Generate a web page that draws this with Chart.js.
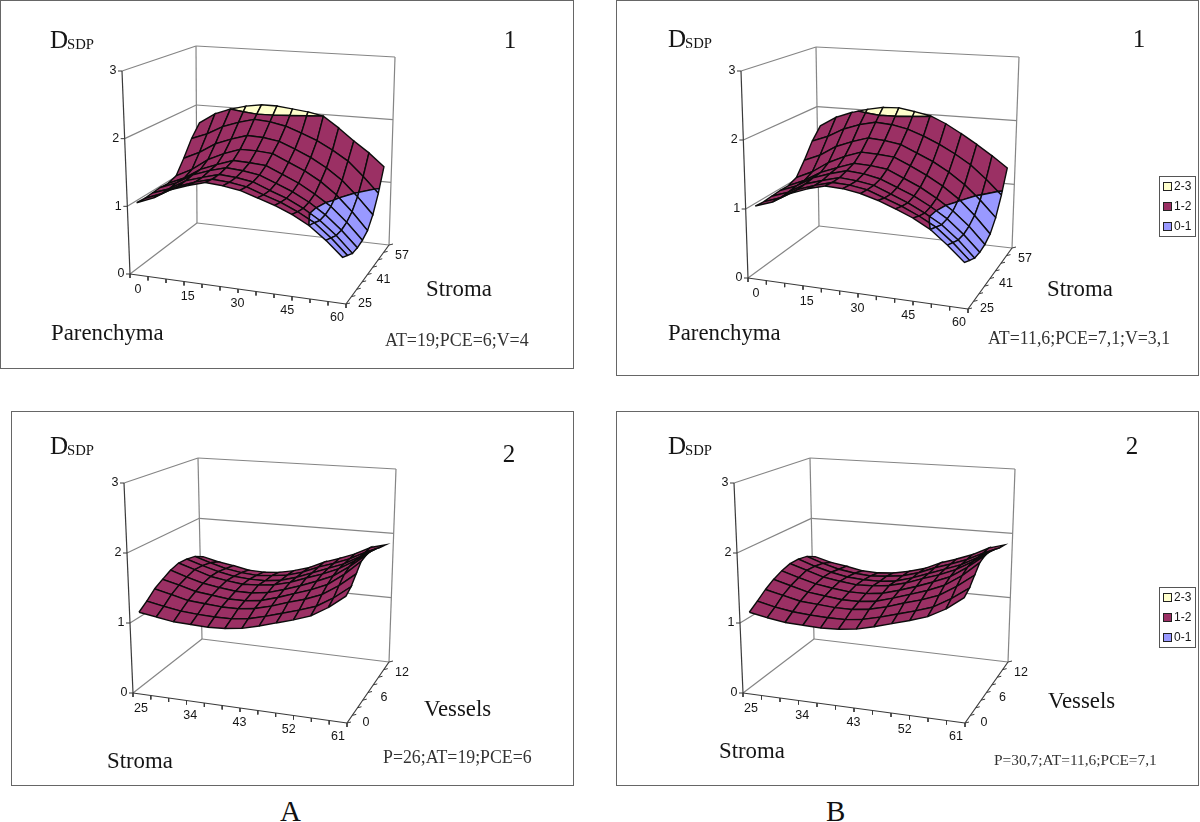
<!DOCTYPE html>
<html>
<head>
<meta charset="utf-8">
<title>DSDP surfaces</title>
<script src="https://cdn.jsdelivr.net/npm/chart.js@4/dist/chart.umd.min.js"></script>
<style>
  html, body { margin: 0; padding: 0; background: #fff; }
  body { position: relative; width: 1200px; height: 822px; overflow: hidden; }
  .panel { position: absolute; outline: 1px solid #666; background: #fff; }
  .panel canvas { display: block; }
  .group { position: absolute; font: 29px "Liberation Serif", serif; color: #111; }
</style>
</head>
<body>
<script>
const valueTicks = [0, 1, 2, 3];
const parenchyma = [0, 5, 10, 15, 20, 25, 30, 35, 40, 45, 50, 55, 60];
const stromaRows = [25, 29, 33, 37, 41, 45, 49, 53, 57];
const stromaCols = [25, 28, 31, 34, 37, 40, 43, 46, 49, 52, 55, 58, 61];
const vesselRows = [0, 1.5, 3, 4.5, 6, 7.5, 9, 10.5, 12];
const bandLabels = ['2-3', '1-2', '0-1'];

// rows run front to back, columns left to right
const surfaceA1 = [
  [1.04, 1.14, 1.29, 1.38, 1.45, 1.43, 1.39, 1.31, 1.23, 1.13, 1.00, 0.82, 0.61],
  [1.03, 1.13, 1.27, 1.36, 1.43, 1.41, 1.37, 1.28, 1.20, 1.09, 0.96, 0.77, 0.55],
  [1.04, 1.13, 1.28, 1.36, 1.43, 1.41, 1.37, 1.27, 1.18, 1.06, 0.91, 0.72, 0.49],
  [1.05, 1.15, 1.30, 1.39, 1.46, 1.44, 1.40, 1.30, 1.20, 1.07, 0.91, 0.71, 0.48],
  [1.04, 1.15, 1.31, 1.41, 1.50, 1.49, 1.47, 1.36, 1.25, 1.11, 0.95, 0.74, 0.50],
  [1.08, 1.21, 1.39, 1.51, 1.60, 1.60, 1.58, 1.47, 1.36, 1.22, 1.04, 0.81, 0.55],
  [1.29, 1.41, 1.57, 1.67, 1.75, 1.74, 1.70, 1.60, 1.49, 1.35, 1.18, 0.95, 0.70],
  [1.54, 1.64, 1.78, 1.87, 1.94, 1.92, 1.87, 1.78, 1.68, 1.55, 1.40, 1.18, 0.94],
  [1.73, 1.90, 2.00, 2.07, 2.11, 2.11, 2.08, 2.05, 2.00, 1.83, 1.64, 1.47, 1.27]
];
const surfaceB1 = [
  [1.03, 1.12, 1.27, 1.37, 1.44, 1.43, 1.39, 1.32, 1.23, 1.13, 1.00, 0.81, 0.60],
  [1.02, 1.11, 1.26, 1.35, 1.42, 1.41, 1.37, 1.28, 1.19, 1.08, 0.95, 0.76, 0.54],
  [1.03, 1.12, 1.27, 1.35, 1.42, 1.40, 1.36, 1.26, 1.16, 1.04, 0.90, 0.71, 0.48],
  [1.04, 1.14, 1.29, 1.38, 1.45, 1.43, 1.38, 1.28, 1.18, 1.05, 0.90, 0.70, 0.47],
  [1.04, 1.15, 1.30, 1.40, 1.49, 1.48, 1.45, 1.34, 1.23, 1.09, 0.93, 0.73, 0.49],
  [1.09, 1.21, 1.38, 1.50, 1.59, 1.58, 1.56, 1.45, 1.33, 1.19, 1.02, 0.80, 0.55],
  [1.29, 1.40, 1.56, 1.66, 1.74, 1.72, 1.68, 1.57, 1.46, 1.32, 1.15, 0.94, 0.70],
  [1.53, 1.63, 1.77, 1.86, 1.92, 1.90, 1.85, 1.76, 1.65, 1.52, 1.37, 1.17, 0.95],
  [1.71, 1.87, 1.97, 2.04, 2.09, 2.10, 2.06, 2.01, 1.90, 1.76, 1.61, 1.45, 1.28]
];
const surfaceA2 = [
  [1.14, 1.10, 1.06, 1.05, 1.04, 1.05, 1.08, 1.14, 1.21, 1.28, 1.36, 1.50, 1.68],
  [1.23, 1.18, 1.14, 1.12, 1.11, 1.11, 1.14, 1.20, 1.27, 1.34, 1.42, 1.56, 1.74],
  [1.34, 1.28, 1.22, 1.20, 1.18, 1.18, 1.21, 1.27, 1.35, 1.42, 1.51, 1.66, 1.85],
  [1.41, 1.35, 1.28, 1.25, 1.22, 1.22, 1.25, 1.32, 1.40, 1.48, 1.58, 1.75, 1.96],
  [1.48, 1.40, 1.33, 1.29, 1.26, 1.26, 1.29, 1.36, 1.44, 1.53, 1.63, 1.79, 1.98],
  [1.52, 1.44, 1.36, 1.32, 1.29, 1.30, 1.33, 1.39, 1.48, 1.56, 1.66, 1.80, 1.97],
  [1.51, 1.43, 1.36, 1.31, 1.29, 1.29, 1.32, 1.39, 1.48, 1.57, 1.66, 1.79, 1.93],
  [1.48, 1.40, 1.33, 1.29, 1.27, 1.29, 1.32, 1.39, 1.49, 1.57, 1.66, 1.78, 1.88],
  [1.40, 1.34, 1.30, 1.25, 1.24, 1.26, 1.31, 1.38, 1.49, 1.57, 1.66, 1.78, 1.84]
];
const surfaceB2 = [
  [1.14, 1.09, 1.05, 1.04, 1.03, 1.04, 1.07, 1.13, 1.20, 1.27, 1.35, 1.48, 1.66],
  [1.23, 1.17, 1.13, 1.11, 1.10, 1.10, 1.13, 1.19, 1.26, 1.33, 1.41, 1.55, 1.72],
  [1.33, 1.27, 1.21, 1.19, 1.17, 1.17, 1.20, 1.26, 1.34, 1.41, 1.50, 1.65, 1.83],
  [1.41, 1.34, 1.27, 1.24, 1.21, 1.21, 1.24, 1.31, 1.39, 1.47, 1.57, 1.73, 1.94],
  [1.47, 1.39, 1.32, 1.28, 1.25, 1.25, 1.28, 1.35, 1.43, 1.52, 1.62, 1.78, 1.97],
  [1.51, 1.43, 1.35, 1.31, 1.28, 1.29, 1.32, 1.38, 1.47, 1.55, 1.65, 1.79, 1.96],
  [1.51, 1.42, 1.35, 1.30, 1.28, 1.28, 1.31, 1.38, 1.47, 1.56, 1.65, 1.78, 1.92],
  [1.48, 1.39, 1.32, 1.28, 1.26, 1.28, 1.31, 1.38, 1.48, 1.56, 1.65, 1.77, 1.87],
  [1.40, 1.33, 1.29, 1.24, 1.23, 1.25, 1.30, 1.37, 1.48, 1.56, 1.65, 1.77, 1.84]
];

const bandColors = ['#FFFFCC', '#9B3064', '#9999FF'];
const bands = [[2, 3, bandColors[0]], [1, 2, bandColors[1]], [0, 1, bandColors[2]]];
const serif = '"Liberation Serif", serif';
const sans = '"Liberation Sans", sans-serif';

// frame is the drawn rectangle, box holds floor and top corners of the 3d cube
const panels = [
  {
    frame: [1, 1, 573, 368], values: surfaceA1, cols: parenchyma, rows: stromaRows, colEvery: 3, rowEvery: 4,
    box: { fl: [130, 274], fr: [346, 304], br: [389, 245], bl: [197, 223], tfl: [122, 71], tfr: [353, 89], tbr: [395, 57], tbl: [196, 46] },
    dLabel: [50, 48], number: ['1', 510, 48], colName: ['Parenchyma', 51, 340], rowName: ['Stroma', 426, 296],
    note: ['AT=19;PCE=6;V=4', 385, 346, 17.9], legend: null
  },
  {
    frame: [617, 1, 1198, 375], values: surfaceB1, cols: parenchyma, rows: stromaRows, colEvery: 3, rowEvery: 4,
    box: { fl: [748, 278], fr: [968, 309], br: [1012, 248], bl: [819, 226], tfl: [741, 71], tfr: [975, 92], tbr: [1019, 57], tbl: [816, 47] },
    dLabel: [668, 47], number: ['1', 1139, 47], colName: ['Parenchyma', 668, 340], rowName: ['Stroma', 1047, 296],
    note: ['AT=11,6;PCE=7,1;V=3,1', 988, 344, 17.8], legend: [1159, 176]
  },
  {
    frame: [12, 412, 573, 785], values: surfaceA2, cols: stromaCols, rows: vesselRows, colEvery: 3, rowEvery: 4,
    box: { fl: [133, 693], fr: [347, 723], br: [389, 662], bl: [202, 639], tfl: [124, 483], tfr: [354, 501], tbr: [396, 469], tbl: [198, 458] },
    dLabel: [50, 454], number: ['2', 509, 462], colName: ['Stroma', 107, 768], rowName: ['Vessels', 424, 716],
    note: ['P=26;AT=19;PCE=6', 383, 763, 17.8], legend: null
  },
  {
    frame: [617, 412, 1198, 785], values: surfaceB2, cols: stromaCols, rows: vesselRows, colEvery: 3, rowEvery: 4,
    box: { fl: [743, 693], fr: [965, 723], br: [1008, 662], bl: [814, 639], tfl: [734, 483], tfr: [973, 501], tbr: [1015, 469], tbl: [810, 458] },
    dLabel: [668, 454], number: ['2', 1132, 454], colName: ['Stroma', 719, 758], rowName: ['Vessels', 1048, 708],
    note: ['P=30,7;AT=11,6;PCE=7,1', 994, 765, 15.4], legend: [1159, 587]
  }
];

function lerp(a, b, t) { return a + (b - a) * t; }

function bilinear(a, b, c, d, u, v) {
  return [0, 1].map(k => lerp(lerp(a[k], b[k], u), lerp(d[k], c[k], u), v));
}

// u along the front axis, v towards the back, d is the value 0..3
function project(box, u, v, d) {
  const floor = bilinear(box.fl, box.fr, box.br, box.bl, u, v);
  const top = bilinear(box.tfl, box.tfr, box.tbr, box.tbl, u, v);
  return { x: lerp(floor[0], top[0], d / 3), y: lerp(floor[1], top[1], d / 3) };
}

// surface sits a little inside the cube, as in the original
function meshU(j, n) { return lerp(0.03, 0.97, j / (n - 1)); }
function meshV(i, n) { return lerp(0.04, 0.96, i / (n - 1)); }

function clipBand(poly, level, keepAbove) {
  const out = [];
  poly.forEach((p, k) => {
    const q = poly[(k + 1) % poly.length];
    const pIn = keepAbove ? p.d >= level : p.d <= level;
    const qIn = keepAbove ? q.d >= level : q.d <= level;
    if (pIn) out.push(p);
    if (pIn !== qIn) {
      const t = (level - p.d) / (q.d - p.d);
      out.push({ u: lerp(p.u, q.u, t), v: lerp(p.v, q.v, t), d: level });
    }
  });
  return out;
}

function lineSet(points, color, width) {
  return { data: points, showLine: true, borderColor: color, borderWidth: width, pointRadius: 0, fill: false, tension: 0 };
}

function buildDatasets(panel) {
  const { box, values, cols, rows } = panel;
  const sets = [];
  const wall = '#858585';
  const axis = '#3a3a3a';
  const seg = (a, b, c) => sets.push(lineSet([project(box, ...a), project(box, ...b)], c, 1.2));

  // walls and floor
  seg([0, 0, 0], [0, 1, 0], wall);
  seg([0, 1, 0], [1, 1, 0], wall);
  seg([0, 1, 0], [0, 1, 3], wall);
  seg([1, 1, 0], [1, 1, 3], wall);
  valueTicks.slice(1).forEach(d => {
    seg([0, 0, d], [0, 1, d], wall);
    seg([0, 1, d], [1, 1, d], wall);
  });
  // axes
  seg([0, 0, 0], [0, 0, 3], axis);
  seg([0, 0, 0], [1, 0, 0], axis);
  seg([1, 0, 0], [1, 1, 0], axis);
  valueTicks.forEach(d => {
    const p = project(box, 0, 0, d);
    sets.push(lineSet([p, { x: p.x - 4, y: p.y }], axis, 1));
  });
  cols.forEach((c, j) => {
    const p = project(box, j / (cols.length - 1), 0, 0);
    sets.push(lineSet([p, { x: p.x, y: p.y + 4 }], axis, 1));
  });
  rows.forEach((r, i) => {
    const p = project(box, 1, i / (rows.length - 1), 0);
    sets.push(lineSet([p, { x: p.x + 4, y: p.y - 1 }], axis, 1));
  });

  // surface cells, far row first, each split on the colour bands
  for (let i = rows.length - 2; i >= 0; i--) {
    for (let j = 0; j < cols.length - 1; j++) {
      const node = (r, c) => ({ u: meshU(c, cols.length), v: meshV(r, rows.length), d: values[r][c] });
      const quad = [node(i, j), node(i, j + 1), node(i + 1, j + 1), node(i + 1, j)];
      bands.forEach(([lo, hi, color]) => {
        let poly = clipBand(quad, lo, true);
        if (poly.length) poly = clipBand(poly, hi, false);
        if (poly.length < 3) return;
        const pts = poly.map(p => project(box, p.u, p.v, p.d));
        pts.push(pts[0]);
        sets.push({
          data: pts, showLine: true, fill: 'shape', backgroundColor: color,
          borderColor: '#0c0c0c', borderWidth: 1.4, pointRadius: 0, tension: 0
        });
      });
    }
  }
  // chart.js paints the first dataset last
  return sets.reverse();
}

const textPlugin = {
  id: 'panelText',
  afterDatasetsDraw(chart) {
    const panel = chart.options.plugins.panelText.panel;
    const { box, cols, rows, colEvery, rowEvery } = panel;
    const ctx = chart.ctx;
    const sx = chart.scales.x;
    const sy = chart.scales.y;
    const put = (text, x, y, font, align, base) => {
      ctx.font = font;
      ctx.textAlign = align || 'left';
      ctx.textBaseline = base || 'alphabetic';
      ctx.fillText(text, sx.getPixelForValue(x), sy.getPixelForValue(y));
    };
    ctx.save();
    ctx.fillStyle = '#151515';
    const tickFont = '12.5px ' + sans;
    valueTicks.forEach(d => {
      const p = project(box, 0, 0, d);
      put(String(d), p.x - 9, p.y, tickFont, 'center', 'middle');
    });
    cols.forEach((c, j) => {
      if (j % colEvery) return;
      const u = j / (cols.length - 1);
      const p = project(box, u, 0, 0);
      put(String(c), p.x + lerp(8, -9, u), p.y + lerp(16, 14, u), tickFont, 'center', 'middle');
    });
    rows.forEach((r, i) => {
      if (i % rowEvery) return;
      const v = i / (rows.length - 1);
      const p = project(box, 1, v, 0);
      put(String(r), p.x + lerp(19, 13, v), p.y + lerp(0, 11, v), tickFont, 'center', 'middle');
    });

    put('D', panel.dLabel[0], panel.dLabel[1], '25px ' + serif);
    put('SDP', panel.dLabel[0] + 17, panel.dLabel[1] + 1, '14.7px ' + serif);
    put(panel.number[0], panel.number[1], panel.number[2], '25px ' + serif, 'center');
    put(panel.colName[0], panel.colName[1], panel.colName[2], '22.8px ' + serif);
    put(panel.rowName[0], panel.rowName[1], panel.rowName[2], '22.8px ' + serif);
    ctx.fillStyle = '#333';
    put(panel.note[0], panel.note[1], panel.note[2], panel.note[3] + 'px ' + serif);

    if (panel.legend) {
      const lx = sx.getPixelForValue(panel.legend[0]);
      const ly = sy.getPixelForValue(panel.legend[1]);
      ctx.strokeStyle = '#555';
      ctx.lineWidth = 1;
      ctx.strokeRect(lx + 0.5, ly + 0.5, 36, 60);
      bandLabels.forEach((label, k) => {
        const rowY = ly + 10.5 + k * 20;
        ctx.fillStyle = bandColors[k];
        ctx.fillRect(lx + 4.5, rowY - 4, 8, 8);
        ctx.strokeStyle = '#222';
        ctx.strokeRect(lx + 4.5, rowY - 4, 8, 8);
        ctx.fillStyle = '#151515';
        ctx.font = '12px ' + sans;
        ctx.textAlign = 'left';
        ctx.textBaseline = 'middle';
        ctx.fillText(label, lx + 15, rowY);
      });
    }
    ctx.restore();
  }
};

panels.forEach(panel => {
  const [left, top, right, bottom] = panel.frame;
  const wrap = document.createElement('div');
  wrap.className = 'panel';
  wrap.style.cssText = `left:${left}px;top:${top}px;width:${right - left}px;height:${bottom - top}px`;
  const canvas = document.createElement('canvas');
  canvas.width = right - left;
  canvas.height = bottom - top;
  wrap.appendChild(canvas);
  document.body.appendChild(wrap);

  new Chart(canvas, {
    type: 'scatter',
    data: { datasets: buildDatasets(panel) },
    options: {
      responsive: false,
      animation: false,
      events: [],
      layout: { padding: 0 },
      scales: {
        x: { type: 'linear', display: false, min: left, max: right },
        y: { type: 'linear', display: false, reverse: true, min: top, max: bottom }
      },
      plugins: {
        legend: { display: false },
        tooltip: { enabled: false },
        panelText: { panel: panel }
      }
    },
    plugins: [textPlugin]
  });
});

[['A', 280], ['B', 826]].forEach(([name, x]) => {
  const el = document.createElement('div');
  el.className = 'group';
  el.textContent = name;
  el.style.left = x + 'px';
  el.style.top = (821 - 0.891 * 29) + 'px';
  document.body.appendChild(el);
});
</script>
</body>
</html>
